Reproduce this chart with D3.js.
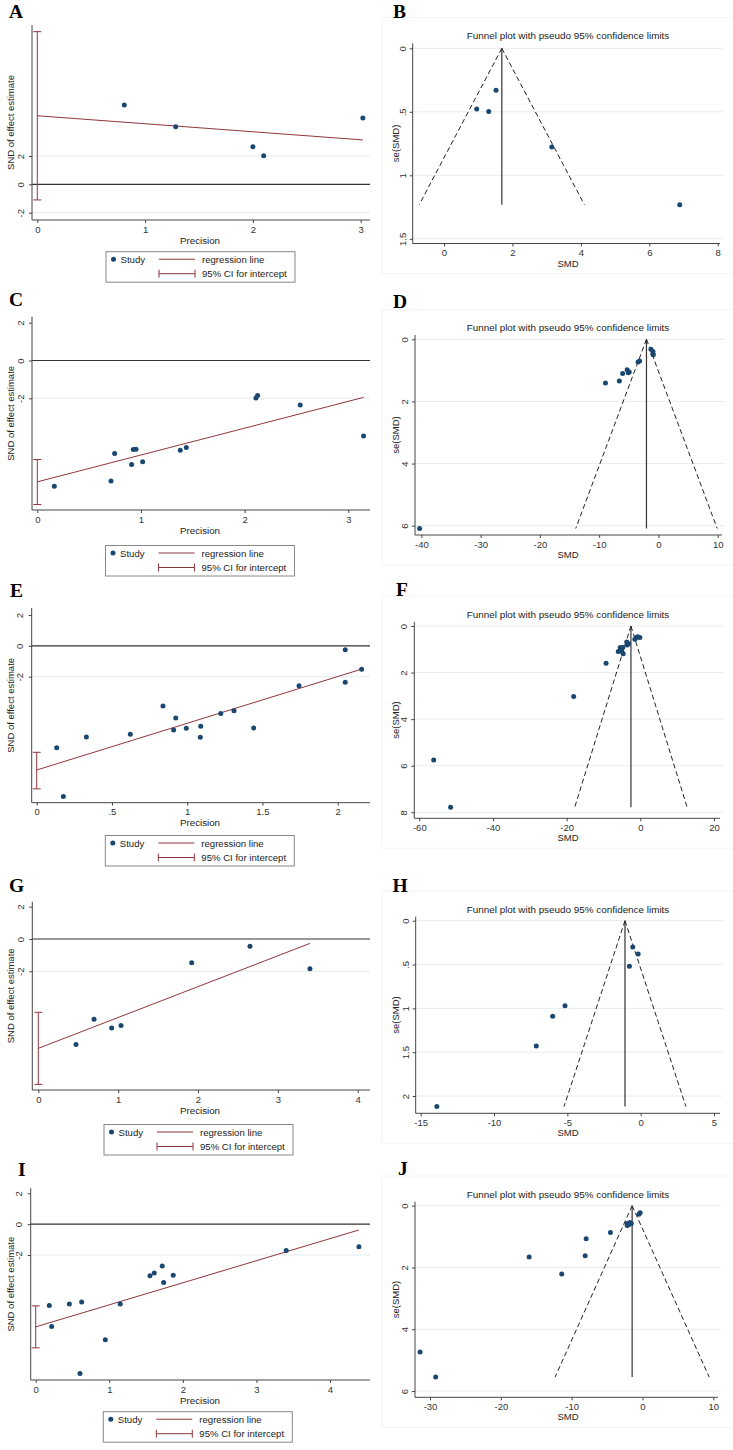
<!DOCTYPE html>
<html>
<head>
<meta charset="utf-8">
<script src="https://cdn.jsdelivr.net/npm/d3@7"></script>
<style>
  body { margin: 0; background: #fff; }
  text { font-family: "Liberation Sans", Arial, sans-serif; fill: #222; }
</style>
</head>
<body>
<div id="chart"></div>
<script>
// ---------- data ----------
// Egger plots: precision (x) and SND of effect estimate (y)
var precA = [0.807, 1.284, 2.0, 2.10, 3.02];
var sndA  = [5.6, 4.07, 2.65, 2.02, 4.68];
var regA  = [4.84, -0.565];          // intercept, slope
var ciA   = [-1.1, 10.77];

var precC = [0.164, 0.711, 0.746, 0.910, 0.926, 0.952, 1.016, 1.379, 1.437, 2.109, 2.125, 2.536, 3.147];
var sndC  = [-6.65, -6.37, -4.92, -5.50, -4.71, -4.69, -5.36, -4.75, -4.60, -1.98, -1.85, -2.36, -4.0];
var regC  = [-6.42, 1.42];
var ciC   = [-7.62, -5.24];

var precE = [0.133, 0.177, 0.330, 0.622, 0.839, 0.910, 0.924, 0.994, 1.090, 1.087, 1.223, 1.311, 1.442, 1.743, 2.050, 2.050, 2.159];
var sndE  = [-6.60, -9.76, -5.91, -5.73, -3.90, -5.45, -4.68, -5.34, -5.21, -5.93, -4.39, -4.20, -5.32, -2.58, -0.26, -2.36, -1.51];
var regE  = [-8.05, 3.03];
var ciE   = [-9.27, -6.90];

var precG = [0.472, 0.698, 0.919, 1.036, 1.921, 2.651, 3.402];
var sndG  = [-6.54, -4.97, -5.51, -5.35, -1.47, -0.45, -1.84];
var regG  = [-6.77, 1.91];
var ciG   = [-9.0, -4.54];

var precI = [0.185, 0.217, 0.457, 0.602, 0.625, 0.946, 1.149, 1.553, 1.611, 1.720, 1.739, 1.869, 3.405, 4.393];
var sndI  = [-5.27, -6.63, -5.17, -9.68, -5.04, -7.50, -5.17, -3.35, -3.16, -2.72, -3.78, -3.31, -1.71, -1.47];
var regI  = [-6.66, 1.43];
var ciI   = [-8.02, -5.30];

// Funnel plots: SMD (x) and se(SMD) (y), pooled estimate
var smdB = [1.52, 0.956, 1.307, 3.15, 6.89];
var seB  = [0.33, 0.477, 0.497, 0.777, 1.231];
var poolB = 1.69;

var smdD = [-40.3, -8.94, -6.60, -6.04, -5.09, -4.93, -5.28, -3.44, -3.18, -0.94, -0.87, -0.93, -1.27];
var seD  = [6.09, 1.41, 1.34, 1.10, 1.08, 1.05, 0.98, 0.73, 0.70, 0.47, 0.50, 0.39, 0.32];
var poolD = -2.02;

var smdF = [-51.5, -56.1, -18.1, -9.3, -4.65, -5.99, -5.06, -5.37, -4.78, -5.46, -3.59, -3.20, -3.69, -1.48, -0.13, -1.15, -0.70];
var seF  = [7.78, 5.75, 3.03, 1.60, 1.19, 1.10, 1.08, 1.01, 0.92, 0.92, 0.82, 0.76, 0.69, 0.57, 0.49, 0.49, 0.46];
var poolF = -2.55;

var smdH = [-13.9, -7.12, -6.0, -5.16, -0.77, -0.17, -0.54];
var seH  = [2.12, 1.43, 1.09, 0.97, 0.52, 0.38, 0.30];
var poolH = -1.07;

var smdJ = [-31.4, -29.2, -16.0, -11.4, -8.09, -7.95, -4.52, -2.16, -1.96, -1.58, -2.17, -1.77, -0.50, -0.33];
var seJ  = [4.74, 5.55, 1.66, 2.21, 1.62, 1.07, 0.87, 0.64, 0.62, 0.58, 0.58, 0.54, 0.28, 0.23];
var poolJ = -1.46;

// tick values
var eggerYTicks = [-2, 0, 2];
var ticksA = [0, 1, 2, 3], ticksC = [0, 1, 2, 3], ticksE = [0, 0.5, 1, 1.5, 2];
var ticksG = [0, 1, 2, 3, 4], ticksI = [0, 1, 2, 3, 4];
var xticksB = [0, 2, 4, 6, 8], yticksB = [0, 0.5, 1, 1.5];
var xticksD = [-40, -30, -20, -10, 0, 10], yticksD = [0, 2, 4, 6];
var xticksF = [-60, -40, -20, 0, 20], yticksF = [0, 2, 4, 6, 8];
var xticksH = [-15, -10, -5, 0, 5], yticksH = [0, 0.5, 1, 1.5, 2];
var xticksJ = [-30, -20, -10, 0, 10], yticksJ = [0, 2, 4, 6];

// ---------- styling ----------
var navy = "#1a476f";
var maroon = "#90353b";
var gridColor = "#e6ecef";
var axisColor = "#444";

var svg = d3.select("#chart").append("svg")
  .attr("width", 733)
  .attr("height", 1450);

function fmt(v) {
  return String(v).replace(/^0\./, ".").replace(/^-0\./, "-.");
}

function letter(ch, x, y) {
  svg.append("text")
    .attr("x", x).attr("y", y)
    .style("font-family", "'Liberation Serif', 'Times New Roman', serif")
    .style("font-weight", "bold")
    .style("font-size", "19.5px")
    .style("fill", "#000")
    .text(ch);
}

function leftAxis(g, y, ticks, ax, top, bot, off) {
  var yAxis = d3.axisLeft(y).tickValues(ticks).tickSize(3).tickFormat(fmt);
  var ya = g.append("g").attr("transform", `translate(${ax},0)`).call(yAxis);
  ya.select(".domain").remove();
  ya.selectAll("line").attr("stroke", axisColor);
  ya.selectAll("text")
    .attr("x", null).attr("dy", null)
    .attr("text-anchor", "middle")
    .attr("transform", `translate(${-off},0) rotate(-90)`)
    .style("font-size", "9.5px").style("fill", "#333");
  g.append("line")
    .attr("x1", ax).attr("x2", ax).attr("y1", top).attr("y2", bot)
    .attr("stroke", axisColor);
}

function bottomAxis(g, x, ticks, bot, ax, right) {
  var xAxis = d3.axisBottom(x).tickValues(ticks).tickSize(3).tickPadding(3).tickFormat(fmt);
  var xa = g.append("g").attr("transform", `translate(0,${bot})`).call(xAxis);
  xa.select(".domain").remove();
  xa.selectAll("line").attr("stroke", axisColor);
  xa.selectAll("text").style("font-size", "9.5px").style("fill", "#333");
  g.append("line")
    .attr("x1", ax).attr("x2", right).attr("y1", bot).attr("y2", bot)
    .attr("stroke", axisColor);
}

// ---------- Egger regression panel ----------
function eggerPanel(p) {
  var g = svg.append("g");
  var x = d3.scaleLinear().domain(p.xd).range(p.xr);
  var y = d3.scaleLinear().domain([-2, 2]).range(p.yr);

  // grid
  p.grid.forEach(function(v) {
    g.append("line")
      .attr("x1", p.ax).attr("x2", 370).attr("y1", y(v)).attr("y2", y(v))
      .attr("stroke", gridColor);
  });
  // reference line at 0
  g.append("line")
    .attr("x1", p.ax).attr("x2", 370).attr("y1", y(0)).attr("y2", y(0))
    .attr("stroke", "#333").attr("stroke-width", 1.2);

  leftAxis(g, y, eggerYTicks, p.ax, p.top, p.bot, 8.5);
  bottomAxis(g, x, p.xt, p.bot, p.ax, 370);

  // regression line
  var xmax = d3.max(p.prec);
  g.append("line")
    .attr("x1", x(0)).attr("y1", y(p.reg[0]))
    .attr("x2", x(xmax)).attr("y2", y(p.reg[0] + p.reg[1] * xmax))
    .attr("stroke", maroon).attr("stroke-width", 1);

  // CI for intercept
  g.append("line")
    .attr("x1", x(0)).attr("x2", x(0)).attr("y1", y(p.ci[0])).attr("y2", y(p.ci[1]))
    .attr("stroke", maroon);
  p.ci.forEach(function(v) {
    g.append("line")
      .attr("x1", x(0) - 4).attr("x2", x(0) + 4).attr("y1", y(v)).attr("y2", y(v))
      .attr("stroke", maroon);
  });

  // points
  g.selectAll("circle.pt")
    .data(p.prec.map(function(d, i) { return [d, p.snd[i]]; }))
    .enter().append("circle")
    .attr("cx", function(d) { return x(d[0]); })
    .attr("cy", function(d) { return y(d[1]); })
    .attr("r", 2.5)
    .attr("fill", navy);

  // axis titles
  g.append("text")
    .attr("x", 200).attr("y", p.bot + 23.5)
    .attr("text-anchor", "middle")
    .style("font-size", "9.7px")
    .text("Precision");
  g.append("text")
    .attr("transform", `translate(13.5,${(p.top + p.bot) / 2}) rotate(-90)`)
    .attr("text-anchor", "middle")
    .style("font-size", "9.5px")
    .text("SND of effect estimate");

  // legend
  var L = p.leg[0], T = p.leg[1];
  var lg = g.append("g");
  lg.append("rect")
    .attr("x", L).attr("y", T).attr("width", 189).attr("height", 30.5)
    .attr("fill", "#fff").attr("stroke", "#888");
  lg.append("circle").attr("cx", L + 7.5).attr("cy", T + 7.5).attr("r", 2.5).attr("fill", navy);
  lg.append("text").attr("x", L + 14.5).attr("y", T + 11).style("font-size", "9.6px").text("Study");
  lg.append("line")
    .attr("x1", L + 53).attr("x2", L + 89).attr("y1", T + 7.5).attr("y2", T + 7.5)
    .attr("stroke", maroon);
  lg.append("text").attr("x", L + 96).attr("y", T + 11).style("font-size", "9.6px").text("regression line");
  lg.append("line")
    .attr("x1", L + 53).attr("x2", L + 89).attr("y1", T + 22).attr("y2", T + 22)
    .attr("stroke", maroon);
  [L + 53, L + 89].forEach(function(cx) {
    lg.append("line")
      .attr("x1", cx).attr("x2", cx).attr("y1", T + 18).attr("y2", T + 26)
      .attr("stroke", maroon);
  });
  lg.append("text").attr("x", L + 96).attr("y", T + 25.5).style("font-size", "9.6px").text("95% CI for intercept");
}

// ---------- funnel panel ----------
function funnelPanel(p) {
  var g = svg.append("g");
  var x = d3.scaleLinear().domain(p.xd).range(p.xr);
  var y = d3.scaleLinear().domain(p.yd).range(p.yr);

  // faint region outline
  g.append("rect")
    .attr("x", 382).attr("y", p.title - 18)
    .attr("width", 360).attr("height", p.bot + 30 - (p.title - 18))
    .attr("fill", "none").attr("stroke", "#f3f3f3");

  p.yt.forEach(function(v) {
    g.append("line")
      .attr("x1", p.ax).attr("x2", p.right + 3).attr("y1", y(v)).attr("y2", y(v))
      .attr("stroke", gridColor);
  });

  leftAxis(g, y, p.yt, p.ax, p.top, p.bot, 7);
  bottomAxis(g, x, p.xt, p.bot, p.ax, p.right);

  // pseudo 95% confidence limits
  var maxSe = d3.max(p.se);
  g.append("line")
    .attr("x1", x(p.pool)).attr("x2", x(p.pool)).attr("y1", y(0)).attr("y2", y(maxSe))
    .attr("stroke", "#333").attr("stroke-width", 1.2);
  [-1.96, 1.96].forEach(function(z) {
    g.append("line")
      .attr("x1", x(p.pool)).attr("y1", y(0))
      .attr("x2", x(p.pool + z * maxSe)).attr("y2", y(maxSe))
      .attr("stroke", "#222").attr("stroke-width", 1)
      .attr("stroke-dasharray", "5,3");
  });

  g.selectAll("circle.pt")
    .data(p.smd.map(function(d, i) { return [d, p.se[i]]; }))
    .enter().append("circle")
    .attr("cx", function(d) { return x(d[0]); })
    .attr("cy", function(d) { return y(d[1]); })
    .attr("r", 2.5)
    .attr("fill", navy);

  g.append("text")
    .attr("x", 568).attr("y", p.title + 3.5)
    .attr("text-anchor", "middle")
    .style("font-size", "9.9px")
    .text("Funnel plot with pseudo 95% confidence limits");
  g.append("text")
    .attr("x", 568).attr("y", p.bot + 23)
    .attr("text-anchor", "middle")
    .style("font-size", "9.5px")
    .text("SMD");
  g.append("text")
    .attr("transform", `translate(398.5,${(p.top + p.bot) / 2}) rotate(-90)`)
    .attr("text-anchor", "middle")
    .style("font-size", "9.5px")
    .text("se(SMD)");
}

// ---------- panels ----------
eggerPanel({ prec: precA, snd: sndA, reg: regA, ci: ciA, xt: ticksA, grid: [2, -2],
  xd: [0, 3], xr: [37.3, 360.7], yr: [212.7, 156], ax: 32, top: 25, bot: 220, leg: [106, 251.7] });
eggerPanel({ prec: precC, snd: sndC, reg: regC, ci: ciC, xt: ticksC, grid: [-2],
  xd: [0, 3], xr: [37.3, 348.3], yr: [398.3, 322.7], ax: 32, top: 316.7, bot: 510, leg: [105.5, 545.5] });
eggerPanel({ prec: precE, snd: sndE, reg: regE, ci: ciE, xt: ticksE, grid: [-2],
  xd: [0, 2], xr: [36.7, 337.7], yr: [676.7, 615], ax: 31.7, top: 608, bot: 802.7, leg: [105.3, 835.5] });
eggerPanel({ prec: precG, snd: sndG, reg: regG, ci: ciG, xt: ticksG, grid: [-2],
  xd: [0, 4], xr: [38.3, 357.7], yr: [971.3, 906.7], ax: 32.3, top: 901.7, bot: 1090, leg: [104, 1124.5] });
eggerPanel({ prec: precI, snd: sndI, reg: regI, ci: ciI, xt: ticksI, grid: [-2],
  xd: [0, 4], xr: [35.7, 330], yr: [1255, 1193.3], ax: 30.7, top: 1188.3, bot: 1380, leg: [103.3, 1411.7] });

funnelPanel({ smd: smdB, se: seB, pool: poolB, xt: xticksB, yt: yticksB,
  xd: [0, 8], xr: [444, 717.7], yd: [0, 1.5], yr: [48.3, 238.8],
  ax: 412.7, top: 43.3, bot: 243.5, right: 720, title: 35.7 });
funnelPanel({ smd: smdD, se: seD, pool: poolD, xt: xticksD, yt: yticksD,
  xd: [-40, 10], xr: [421.4, 717.7], yd: [0, 6], yr: [339.3, 525.7],
  ax: 415, top: 335, bot: 535, right: 722, title: 327.7 });
funnelPanel({ smd: smdF, se: seF, pool: poolF, xt: xticksF, yt: yticksF,
  xd: [-60, 20], xr: [419.3, 714], yd: [0, 8], yr: [626, 812.3],
  ax: 414.3, top: 621.7, bot: 818.3, right: 720, title: 614 });
funnelPanel({ smd: smdH, se: seH, pool: poolH, xt: xticksH, yt: yticksH,
  xd: [-15, 5], xr: [420.7, 714], yd: [0, 2], yr: [920.7, 1096],
  ax: 415.7, top: 916.7, bot: 1113.3, right: 720, title: 909 });
funnelPanel({ smd: smdJ, se: seJ, pool: poolJ, xt: xticksJ, yt: yticksJ,
  xd: [-30, 10], xr: [430, 713.3], yd: [0, 6], yr: [1205.7, 1391],
  ax: 415, top: 1201.7, bot: 1397.3, right: 718, title: 1194 });

// panel letters
letter("A", 9, 17.8);
letter("B", 393, 17.8);
letter("C", 9, 306);
letter("D", 393, 308);
letter("E", 10, 597);
letter("F", 396, 596);
letter("G", 9, 891.5);
letter("H", 392.5, 891.5);
letter("I", 18, 1175.5);
letter("J", 398, 1175);
</script>
</body>
</html>
